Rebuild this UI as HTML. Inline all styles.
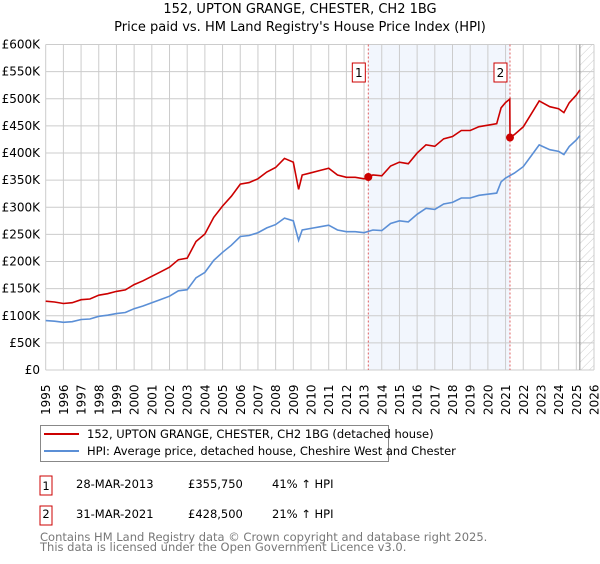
<!DOCTYPE html>
<html><head><meta charset="utf-8"><style>
body{margin:0;background:#fff;width:600px;height:560px;overflow:hidden;font-family:"DejaVu Sans","Liberation Sans",sans-serif}
svg text{font-family:"DejaVu Sans","Liberation Sans",sans-serif}
</style></head><body>
<svg id="chart" width="600" height="560" xmlns="http://www.w3.org/2000/svg">
<defs><pattern id="hatch" width="6" height="6" patternUnits="userSpaceOnUse" patternTransform="rotate(45)"><line x1="0" y1="0" x2="0" y2="6" stroke="#ccc" stroke-width="1"/></pattern></defs>
<text x="300" y="13" text-anchor="middle" font-size="13">152, UPTON GRANGE, CHESTER, CH2 1BG</text>
<text x="300" y="31" text-anchor="middle" font-size="13">Price paid vs. HM Land Registry's House Price Index (HPI)</text>
<g id="plot"></g>
<g>
<rect x="40.5" y="425.5" width="348" height="36" fill="#fff" stroke="#888"/>
<line x1="44" y1="434" x2="79" y2="434" stroke="#cc0000" stroke-width="2"/>
<text x="87" y="438" font-size="11.5">152, UPTON GRANGE, CHESTER, CH2 1BG (detached house)</text>
<line x1="44" y1="451" x2="79" y2="451" stroke="#5b8fd6" stroke-width="2"/>
<text x="87" y="455" font-size="11.5">HPI: Average price, detached house, Cheshire West and Chester</text>
</g>
<g font-size="11.5">
<rect x="40" y="476" width="12" height="19" fill="#fff" stroke="#cc0000"/>
<text x="46" y="490" text-anchor="middle">1</text>
<text x="76" y="488">28-MAR-2013</text><text x="188" y="488">£355,750</text><text x="272" y="488">41% ↑ HPI</text>
<rect x="40" y="506" width="12" height="19" fill="#fff" stroke="#cc0000"/>
<text x="46" y="518" text-anchor="middle">2</text>
<text x="76" y="518">31-MAR-2021</text><text x="188" y="518">£428,500</text><text x="272" y="518">21% ↑ HPI</text>
</g>
<text x="40" y="541" font-size="11.5" fill="#777">Contains HM Land Registry data © Crown copyright and database right 2025.</text>
<text x="40" y="551" font-size="11.5" fill="#777">This data is licensed under the Open Government Licence v3.0.</text>
</svg>
<script>
const hpiYears=[1995,1995.5,1996,1996.5,1997,1997.5,1998,1998.5,1999,1999.5,2000,2000.5,2001,2001.5,2002,2002.5,2003,2003.5,2004,2004.5,2005,2005.5,2006,2006.5,2007,2007.5,2008,2008.5,2009,2009.3,2009.5,2010,2010.5,2011,2011.5,2012,2012.5,2013,2013.5,2014,2014.5,2015,2015.5,2016,2016.5,2017,2017.5,2018,2018.5,2019,2019.5,2020,2020.5,2020.75,2021,2021.5,2022,2022.5,2022.9,2023.5,2024,2024.3,2024.6,2025,2025.2];
const hpiValues=[91,90,88,89,93,94,99,101,104,106,113,118,124,130,136,146,148,170,180,202,217,230,246,248,253,262,268,280,275,239,258,261,264,267,258,255,255,253,258,257,270,275,273,287,298,296,306,309,317,317,322,324,326,347,354,363,375,397,415,406,403,397,412,424,432];
const saleYears=[2013.24,2021.25];
const salePrices=[355.75,428.5];
const saleLabels=["1","2"];
const yTicks=[0,50,100,150,200,250,300,350,400,450,500,550,600];
const yTickLabels=["£0","£50K","£100K","£150K","£200K","£250K","£300K","£350K","£400K","£450K","£500K","£550K","£600K"];
const xTicks=[1995,1996,1997,1998,1999,2000,2001,2002,2003,2004,2005,2006,2007,2008,2009,2010,2011,2012,2013,2014,2015,2016,2017,2018,2019,2020,2021,2022,2023,2024,2025,2026];
const dataEnd=2025.2;

const X0=45.7,X1=594,Y0=370,Y1=44.5;
const xs=y=>X0+(y-1995)/(2026-1995)*(X1-X0);
const ys=v=>Y0-v/600*(Y0-Y1);
const NS="http://www.w3.org/2000/svg";
const g=document.getElementById('plot');
function mk(t,a){const e=document.createElementNS(NS,t);for(const k in a)e.setAttribute(k,a[k]);g.appendChild(e);return e;}
function hpiAt(y){for(let i=0;i<hpiYears.length-1;i++){if(y<=hpiYears[i+1]){const f=(y-hpiYears[i])/(hpiYears[i+1]-hpiYears[i]);return hpiValues[i]+f*(hpiValues[i+1]-hpiValues[i]);}}return hpiValues[hpiValues.length-1];}

let r=mk('rect',{x:xs(saleYears[0]),y:Y1,width:xs(saleYears[1])-xs(saleYears[0]),height:Y0-Y1,fill:'#eef3fc',opacity:0.75});


r=mk('rect',{x:xs(dataEnd),y:Y1,width:X1-xs(dataEnd),height:Y0-Y1,fill:'url(#hatch)'});


yTicks.forEach((v,i)=>{
 const l=mk('line',{x1:X0,x2:X1,y1:ys(v),y2:ys(v),stroke:'#ccc','stroke-width':1});
 
 
 const t=mk('text',{x:40,y:ys(v)+4,'text-anchor':'end','font-size':12});
 t.textContent=yTickLabels[i];
 
 
});
xTicks.forEach(y=>{
 const l=mk('line',{x1:xs(y),x2:xs(y),y1:Y1,y2:Y0,stroke:'#ccc','stroke-width':1});
 
 
 const t=mk('text',{x:0,y:0,'font-size':12,transform:`translate(${xs(y)+4.5},415) rotate(-90)`});
 t.textContent=y;
 
 
});
let el=mk('line',{x1:xs(dataEnd),x2:xs(dataEnd),y1:Y1,y2:Y0,stroke:'#888','stroke-width':1});


saleYears.forEach((y,i)=>{
 const l=mk('line',{x1:xs(y),x2:xs(y),y1:Y1,y2:Y0,stroke:'#e06060','stroke-width':1,'stroke-dasharray':'2,2'});
 
 
 const b=mk('rect',{x:xs(y)-16,y:63,width:13,height:19,fill:'#fff',stroke:'#cc0000'});
 
 
 const t=mk('text',{x:xs(y)-9.5,y:77,'text-anchor':'middle','font-size':12});
 t.textContent=saleLabels[i];
 
 
});
// HPI line
let p=hpiYears.map((y,i)=>(i?'L':'M')+xs(y).toFixed(1)+','+ys(hpiValues[i]).toFixed(1)).join('');
el=mk('path',{d:p,fill:'none',stroke:'#5b8fd6','stroke-width':1.6});


// property line: HPI indexed to sales
const r1=salePrices[0]/hpiAt(saleYears[0]),r2=salePrices[1]/hpiAt(saleYears[1]);
let pts=[];
hpiYears.forEach((y,i)=>{ if(y<saleYears[1]) pts.push([y,hpiValues[i]*r1]); });
pts.push([saleYears[1]-0.01,hpiAt(saleYears[1])*r1]);
pts.push([saleYears[1],salePrices[1]]);
hpiYears.forEach((y,i)=>{ if(y>saleYears[1]) pts.push([y,hpiValues[i]*r2]); });
p=pts.map((q,i)=>(i?'L':'M')+xs(q[0]).toFixed(1)+','+ys(q[1]).toFixed(1)).join('');
el=mk('path',{d:p,fill:'none',stroke:'#cc0000','stroke-width':1.6});


saleYears.forEach((y,i)=>{
 const c=mk('circle',{cx:xs(y),cy:ys(salePrices[i]),r:4,fill:'#cc0000'});
 
 
});
</script>
</body></html>
